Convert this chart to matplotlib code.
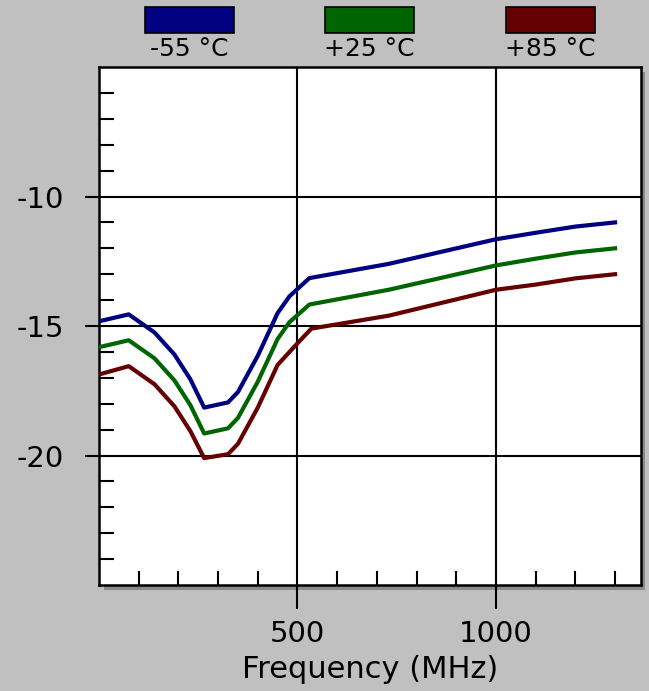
import matplotlib
matplotlib.use("Agg")
import matplotlib.pyplot as plt
from matplotlib.patches import Rectangle

# frequency (MHz) and return loss (dB)
freq_m55 = [5, 75, 140, 190, 230, 265, 325, 350, 400, 450, 480, 530, 730, 1000, 1100, 1200, 1300]
val_m55 = [-14.8, -14.55, -15.25, -16.1, -17.05, -18.15, -17.95, -17.55, -16.15, -14.5, -13.85,
           -13.15, -12.6, -11.65, -11.4, -11.16, -11.0]

freq_p25 = [5, 75, 140, 190, 230, 265, 325, 350, 400, 450, 480, 530, 730, 1000, 1100, 1200, 1300]
val_p25 = [-15.8, -15.55, -16.25, -17.1, -18.05, -19.15, -18.95, -18.55, -17.15, -15.5, -14.85,
           -14.17, -13.6, -12.66, -12.4, -12.16, -12.0]

freq_p85 = [5, 75, 140, 190, 230, 265, 325, 350, 400, 450, 495, 535, 730, 1000, 1100, 1200, 1300]
val_p85 = [-16.85, -16.55, -17.25, -18.1, -19.05, -20.1, -19.95, -19.55, -18.15, -16.5, -15.75,
           -15.1, -14.6, -13.6, -13.4, -13.16, -13.0]

labels = ["-55 °C", "+25 °C", "+85 °C"]
colors = ["#000080", "#006400", "#660000"]

x_major = [500, 1000]
x_minor = list(range(100, 1400, 100))
y_major = [-10, -15, -20]
y_minor = list(range(-24, -5))

plt.rcParams["font.family"] = ["DejaVu Sans"]
plt.rcParams["axes.unicode_minus"] = False
fig = plt.figure(figsize=(6.49, 6.91), dpi=100, facecolor="#c0c0c0")
box = [0.1525, 0.1534, 0.835, 0.7496]
ax = fig.add_axes(box)

# drop shadow behind the plot box
shadow = Rectangle((box[0] + 0.007, box[1] - 0.007), box[2], box[3],
                   transform=fig.transFigure, facecolor="#8a8a8a", edgecolor="none", zorder=-1)
fig.add_artist(shadow)

series = [(freq_m55, val_m55), (freq_p25, val_p25), (freq_p85, val_p85)]
for (f, v), c in zip(series, colors):
    ax.plot(f, v, color=c, lw=3.0, zorder=3)

ax.set_xlim(0, 1365)
ax.set_ylim(-25, -5)
ax.set_facecolor("white")

ax.set_xticks(x_major)
ax.set_xticks(x_minor, minor=True)
ax.set_yticks(y_major)
ax.set_yticks(y_minor, minor=True)
ax.grid(True, which="major", color="black", lw=1.5)

ax.tick_params(which="major", direction="out", width=1.5, labelsize=21, colors="black")
ax.tick_params(axis="x", which="major", length=17, pad=8)
ax.tick_params(axis="y", which="major", length=10, pad=15)
ax.tick_params(which="minor", direction="in", length=10, width=1.5)
ax.tick_params(axis="y", which="minor", length=11)
for s in ax.spines.values():
    s.set_linewidth(1.8)

ax.set_xlabel("Frequency (MHz)", fontsize=22, labelpad=5)

# legend: coloured boxes with labels underneath
box_x = [145, 325, 506]
for bx, c, lab in zip(box_x, colors, labels):
    r = Rectangle((bx / 649, 1 - 33 / 691), 89 / 649, 26 / 691, transform=fig.transFigure,
                  facecolor=c, edgecolor="black", lw=1.2)
    fig.add_artist(r)
    fig.text((bx + 44) / 649, 1 - 56 / 691, lab, ha="center", va="baseline", fontsize=18)

fig.savefig("out.png", dpi=100, facecolor=fig.get_facecolor())
